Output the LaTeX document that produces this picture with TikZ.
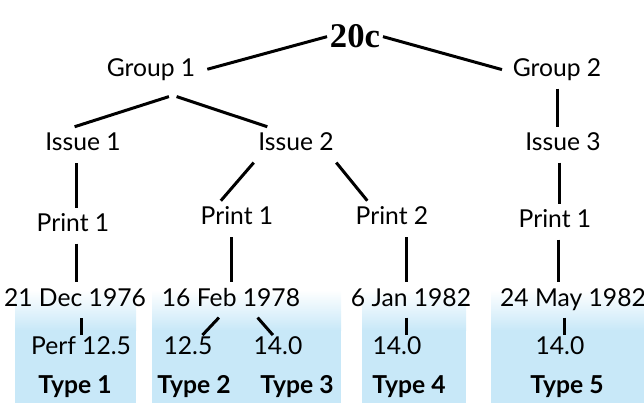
\documentclass[tikz,border=0pt]{standalone}
\usepackage{fontspec}
\setmainfont{Lato}
\newfontfamily\rootfont{Liberation Serif}
\definecolor{panelblue}{RGB}{200,232,248}
\tikzset{
  lbl/.style={font=\fontsize{18.5}{20}\selectfont, anchor=base, inner sep=5pt,
    text height=13pt, text depth=3.5pt},
  leaf/.style={lbl, inner sep=1pt},
  typ/.style={font=\fontsize{18.5}{20}\selectfont\bfseries, anchor=base},
  link/.style={line width=2.25pt},
}
\begin{document}
\begin{tikzpicture}[x=0.75pt, y=-0.75pt]
\useasboundingbox (0,0) rectangle (644,403);
% panels behind the stamp types
\foreach \l/\r in {15/136, 152/341, 362/466, 491/644} {
  \shade[top color=white, bottom color=panelblue] (\l,290) rectangle (\r,330.5);
  \fill[panelblue] (\l,330) rectangle (\r,403);
}
% tree
\node[font=\rootfont\fontsize{26}{28}\selectfont\bfseries, anchor=base, inner sep=2pt] (root) at (355,48) {20c};
\node[lbl] (g1) at (151,77) {Group 1};
\node[lbl] (g2) at (557,77) {Group 2};
\node[lbl] (i1) at (83,151) {Issue 1};
\node[lbl] (i2) at (296,151) {Issue 2};
\node[lbl] (i3) at (563,151) {Issue 3};
\node[lbl] (p1a) at (73,232) {Print 1};
\node[lbl] (p1b) at (237,225) {Print 1};
\node[lbl] (p2) at (392,225) {Print 2};
\node[lbl] (p1c) at (555,228) {Print 1};
\node[lbl] (d1) at (75,306) {21 Dec 1976};
\node[lbl] (d2) at (231,306) {16 Feb 1978};
\node[lbl] (d3) at (411,306) {6 Jan 1982};
\node[lbl] (d4) at (573,306) {24 May 1982};
\node[leaf] (l1) at (81,354) {Perf 12.5};
\node[leaf] (l2) at (188,354) {12.5};
\node[leaf] (l3) at (278,354) {14.0};
\node[leaf] (l4) at (397,354) {14.0};
\node[leaf] (l5) at (560,354) {14.0};
\node[typ] (t1) at (75,393) {Type 1};
\node[typ] (t2) at (194,393) {Type 2};
\node[typ] (t3) at (297,393) {Type 3};
\node[typ] (t4) at (409,393) {Type 4};
\node[typ] (t5) at (567,393) {Type 5};

\draw[link, shorten >=4pt] (root.west) -- (g1.east);
\draw[link, shorten >=3pt] (root.east) -- (g2.west);
\draw[link] ([yshift=-6pt]g1.-45) -- (i1.115);
\draw[link] ([yshift=-6pt]g1.-35) -- (i2.148);
\draw[link] (g2.south) -- (g2.south |- i3.north);
\draw[link] (p1a.80) -- (p1a.80 |- i1.south);
\draw[link] (i2.-157) -- (p1b.132);
\draw[link] (i2.-24) -- (p2.144);
\draw[link] (i3.-100) -- (i3.-100 |- p1c.north);
\draw[link] (p1a.-80) -- (p1a.-80 |- d1.north);
\draw[link] (d2.north) -- (d2.north |- p1b.south);
\draw[link] (d3.105) -- (d3.105 |- p2.south);
\draw[link] (p1c.-80) -- (p1c.-80 |- d4.north);
\draw[link] (l1.north) -- (l1.north |- d1.south);
\draw[link] (d2.-124) -- (l2.41);
\draw[link] (d2.-34) -- (l3.112);
\draw[link] (d3.-105) -- (d3.-105 |- l4.north);
\draw[link] (d4.-116) -- (d4.-116 |- l5.north);
\end{tikzpicture}
\end{document}
